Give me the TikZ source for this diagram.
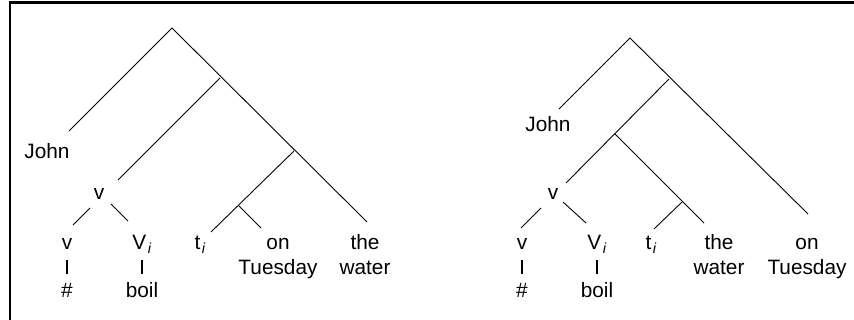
\documentclass[tikz,border=0pt]{standalone}
\usepackage{fontspec}
\setmainfont{Liberation Sans}
\begin{document}
\begin{tikzpicture}[x=1pt,y=-1pt,
  lbl/.style={anchor=base,inner sep=0pt,font=\fontsize{20.8}{24}\selectfont},
  branch/.style={line width=0.9pt,line cap=butt},
  bar/.style={line width=1.6pt},
  frame/.style={line width=2.6pt}]
\useasboundingbox (0,0) rectangle (854,320);
\newcommand{\sub}[1]{\textsubscript{\kern0.1em\itshape #1}}

% frame along the top and left edges
\coordinate (fb) at (10,321);
\coordinate (fc) at (10,2.5);
\coordinate (fr) at (855,2.5);
\draw[frame] (fb) -- (fc) -- (fr);

% ---------- left tree ----------
\coordinate (Lr) at (172,28);
\coordinate (La) at (220,78);
\coordinate (Lb) at (294,151);
\coordinate (Lc) at (239,206);
\coordinate (Ljo) at (69,131);
\coordinate (Lvu) at (118,180);
\coordinate (Lwa) at (367,222);
\coordinate (Lti) at (211,232);
\coordinate (Lon) at (261,228);
\coordinate (Lsl1) at (90,208);
\coordinate (Lsl2) at (73,225);
\coordinate (Lsr1) at (111,204);
\coordinate (Lsr2) at (128,221);
\coordinate (Lp1a) at (67,260);
\coordinate (Lp1b) at (67,274);
\coordinate (Lp2a) at (142,260);
\coordinate (Lp2b) at (142,274);

\node[lbl] (Ljohn) at (47,159) {John};
\node[lbl] (Lv) at (99,200) {v};
\node[lbl] (Lvv) at (67,250) {v};
\node[lbl] (LV) at (142,250) {V\sub{i}};
\node[lbl] (Lt) at (200,250) {t\sub{i}};
\node[lbl] (Lon1) at (278,250) {on};
\node[lbl] (Lon2) at (278,275) {Tuesday};
\node[lbl] (Lthe1) at (365,250) {the};
\node[lbl] (Lthe2) at (365,275) {water};
\node[lbl] (Lhash) at (67,298) {\#};
\node[lbl] (Lboil) at (142,298) {boil};

\draw[branch] (Ljo) -- (Lr) -- (Lwa);
\draw[branch] (La) -- (Lvu);
\draw[branch] (Lb) -- (Lti);
\draw[branch] (Lc) -- (Lon);
\draw[branch] (Lsl1) -- (Lsl2);
\draw[branch] (Lsr1) -- (Lsr2);
\draw[bar] (Lp1a) -- (Lp1b);
\draw[bar] (Lp2a) -- (Lp2b);

% ---------- right tree ----------
\coordinate (Rr) at (630,38);
\coordinate (Ra) at (669,79);
\coordinate (Rb) at (615,134);
\coordinate (Rc) at (682,202);
\coordinate (Rjo) at (559,109);
\coordinate (Rvu) at (566,183);
\coordinate (Rtu) at (808,214);
\coordinate (Rwa) at (704,223);
\coordinate (Rti) at (654,229);
\coordinate (Rsl1) at (541,208);
\coordinate (Rsl2) at (521,228);
\coordinate (Rsr1) at (563,202);
\coordinate (Rsr2) at (586,223);
\coordinate (Rp1a) at (522,260);
\coordinate (Rp1b) at (522,274);
\coordinate (Rp2a) at (597,260);
\coordinate (Rp2b) at (597,274);

\node[lbl] (Rjohn) at (548,132) {John};
\node[lbl] (Rv) at (553,200) {v};
\node[lbl] (Rvv) at (522,250) {v};
\node[lbl] (RV) at (597,250) {V\sub{i}};
\node[lbl] (Rt) at (651,250) {t\sub{i}};
\node[lbl] (Rthe1) at (719,250) {the};
\node[lbl] (Rthe2) at (719,275) {water};
\node[lbl] (Ron1) at (807,250) {on};
\node[lbl] (Ron2) at (807,275) {Tuesday};
\node[lbl] (Rhash) at (522,298) {\#};
\node[lbl] (Rboil) at (597,298) {boil};

\draw[branch] (Rjo) -- (Rr) -- (Rtu);
\draw[branch] (Ra) -- (Rvu);
\draw[branch] (Rb) -- (Rwa);
\draw[branch] (Rc) -- (Rti);
\draw[branch] (Rsl1) -- (Rsl2);
\draw[branch] (Rsr1) -- (Rsr2);
\draw[bar] (Rp1a) -- (Rp1b);
\draw[bar] (Rp2a) -- (Rp2b);
\end{tikzpicture}
\end{document}
